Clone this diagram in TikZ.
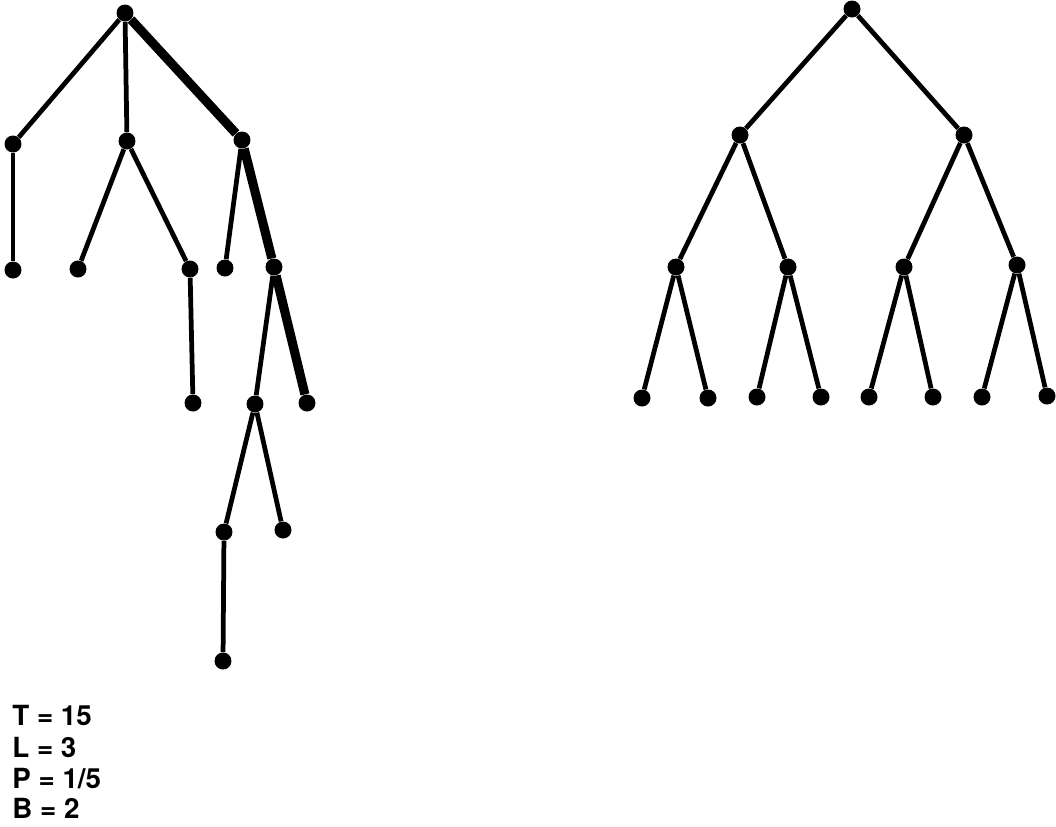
\documentclass[tikz,border=0pt]{standalone}
\usepackage{fontspec}
\setsansfont{TeX Gyre Heros}
\usepackage{tikz}
\usetikzlibrary{positioning}

\begin{document}
\begin{tikzpicture}[
  x=0.02cm,y=-0.02cm,
  dot/.style={circle,fill=black,inner sep=0pt,minimum size=0.34cm},
  edge/.style={line width=2.7pt,draw=black},
  heavy/.style={line width=5.2pt,draw=black},
  val/.style={anchor=base west,inner sep=0pt,font=\sffamily\bfseries\fontsize{15.8}{18}\selectfont}
]
\useasboundingbox (0,0) rectangle (1056,826);

% left tree
\node[dot] (lroot) at (125,13) {};
\node[dot] (la) at (13,144) {};
\node[dot] (lb) at (127,141) {};
\node[dot] (lc) at (242,140) {};
\node[dot] (la1) at (13,270) {};
\node[dot] (lb1) at (78,269) {};
\node[dot] (lb2) at (190,269) {};
\node[dot] (lb21) at (193,403) {};
\node[dot] (lc1) at (225,268) {};
\node[dot] (lc2) at (274,267) {};
\node[dot] (lc21) at (255,404) {};
\node[dot] (lc22) at (307,403) {};
\node[dot] (lc211) at (224,532) {};
\node[dot] (lc212) at (283,530) {};
\node[dot] (lc2111) at (223,661) {};

\draw[edge] (lroot) -- (la);
\draw[edge] (lroot) -- (lb);
\draw[heavy] (lroot) -- (lc);
\draw[edge] (la) -- (la1);
\draw[edge] (lb) -- (lb1);
\draw[edge] (lb) -- (lb2);
\draw[edge] (lb2) -- (lb21);
\draw[edge] (lc) -- (lc1);
\draw[heavy] (lc) -- (lc2);
\draw[edge] (lc2) -- (lc21);
\draw[heavy] (lc2) -- (lc22);
\draw[edge] (lc21) -- (lc211);
\draw[edge] (lc21) -- (lc212);
\draw[edge] (lc211) -- (lc2111);

% values
\node[val] (tval) at (12,725) {T = 15};
\node[val] (lval) at (12,757) {L = 3};
\node[val] (pval) at (12,788) {P = 1/5};
\node[val] (bval) at (12,818) {B = 2};

% right tree
\node[dot] (rroot) at (852,9) {};
\node[dot] (r1) at (740,135) {};
\node[dot] (r2) at (964,135) {};
\node[dot] (r11) at (676,267) {};
\node[dot] (r12) at (788,267) {};
\node[dot] (r21) at (904,267) {};
\node[dot] (r22) at (1017,265) {};
\node[dot] (r111) at (642,398) {};
\node[dot] (r112) at (708,398) {};
\node[dot] (r121) at (757,397) {};
\node[dot] (r122) at (821,397) {};
\node[dot] (r211) at (869,397) {};
\node[dot] (r212) at (933,397) {};
\node[dot] (r221) at (982,397) {};
\node[dot] (r222) at (1047,396) {};

\draw[edge] (rroot) -- (r1);
\draw[edge] (rroot) -- (r2);
\draw[edge] (r1) -- (r11);
\draw[edge] (r1) -- (r12);
\draw[edge] (r2) -- (r21);
\draw[edge] (r2) -- (r22);
\draw[edge] (r11) -- (r111);
\draw[edge] (r11) -- (r112);
\draw[edge] (r12) -- (r121);
\draw[edge] (r12) -- (r122);
\draw[edge] (r21) -- (r211);
\draw[edge] (r21) -- (r212);
\draw[edge] (r22) -- (r221);
\draw[edge] (r22) -- (r222);
\end{tikzpicture}
\end{document}
